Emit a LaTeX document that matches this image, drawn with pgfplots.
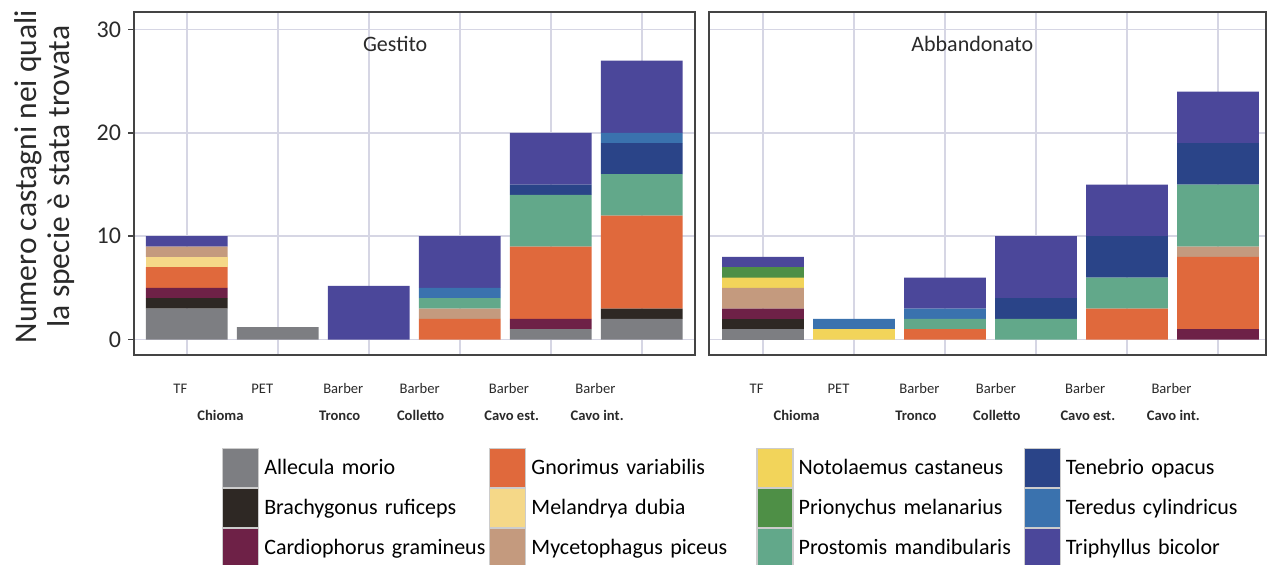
\documentclass[border=0pt]{standalone}
\usepackage{pgfplots}
\pgfplotsset{compat=1.18}
\usepackage{pgfplotstable}
\usepackage{fontspec}
\setmainfont{Carlito}

\definecolor{cAll}{HTML}{7D7E82}
\definecolor{cBra}{HTML}{2E2824}
\definecolor{cCar}{HTML}{6E2147}
\definecolor{cGno}{HTML}{E0693C}
\definecolor{cMel}{HTML}{F5D888}
\definecolor{cMyc}{HTML}{C49A7E}
\definecolor{cNot}{HTML}{F2D45A}
\definecolor{cPri}{HTML}{4E8F46}
\definecolor{cPro}{HTML}{62A88A}
\definecolor{cTen}{HTML}{2A4488}
\definecolor{cTer}{HTML}{3A72AE}
\definecolor{cTri}{HTML}{4B479A}
\definecolor{gridc}{HTML}{D6D6E4}
\definecolor{framec}{HTML}{444444}
\definecolor{txtc}{HTML}{2A2A2A}

% Gestito
\pgfplotstableread{
x All Bra Car Gno Mel Myc Not Pri Pro Ten Ter Tri
0 3   1   1   2   1   1   0   0   0   0   0   1
1 1.2 0   0   0   0   0   0   0   0   0   0   0
2 0   0   0   0   0   0   0   0   0   0   0   5.2
3 0   0   0   2   0   1   0   0   1   0   1   5
4 1   0   1   7   0   0   0   0   5   1   0   5
5 2   1   0   9   0   0   0   0   4   3   1   7
}\gest

% Abbandonato
\pgfplotstableread{
x All Bra Car Gno Mel Myc Not Pri Pro Ten Ter Tri
0 1   1   1   0   0   2   1   1   0   0   0   1
1 0   0   0   0   0   0   1   0   0   0   1   0
2 0   0   0   1   0   0   0   0   1   0   1   3
3 0   0   0   0   0   0   0   0   2   2   0   6
4 0   0   0   3   0   0   0   0   3   4   0   5
5 0   0   1   7   0   1   0   0   6   4   0   5
}\abb

\pgfplotsset{
  panel/.style={
    ybar stacked, bar width=0.9,
    scale only axis, height=171.5pt, anchor=south west,
    ymin=-1.5, ymax=31.7, enlargelimits=false,
    xtick={0,...,5}, xticklabels={}, xtick style={draw=none},
    ytick={0,10,20,30},
    grid=major, grid style={gridc, line width=0.8pt},
    axis line style={framec, line width=1pt},
    clip=false,
  },
  lg/.style={legend image code/.code={
      \fill[#1] (0pt,-9.7pt) rectangle (18pt,9.7pt);
      \draw[gray!40, line width=0.6pt] (0pt,-9.7pt) rectangle (18pt,9.7pt);
    }},
}
\tikzset{
  catA/.style={font=\fontsize{7.3}{8}\selectfont, text=txtc},
  catB/.style={font=\fontsize{7.3}{8}\selectfont\bfseries, text=txtc},
}

\newcommand{\catlabels}{%
  \node[catA] at (axis cs:-0.07,-4.74) {TF};
  \node[catA] at (axis cs:0.83,-4.74) {PET};
  \node[catA] at (axis cs:1.72,-4.74) {Barber};
  \node[catA] at (axis cs:2.56,-4.74) {Barber};
  \node[catA] at (axis cs:3.54,-4.74) {Barber};
  \node[catA] at (axis cs:4.49,-4.74) {Barber};
  \node[catB] at (axis cs:0.37,-7.36) {Chioma};
  \node[catB] at (axis cs:1.68,-7.36) {Tronco};
  \node[catB] at (axis cs:2.57,-7.36) {Colletto};
  \node[catB] at (axis cs:3.57,-7.36) {Cavo est.};
  \node[catB] at (axis cs:4.51,-7.36) {Cavo int.};
}

\begin{document}
\begin{tikzpicture}
\path[use as bounding box] (0,0) rectangle (634pt,282pt);

\begin{axis}[panel,
  at={(67pt,104.5pt)}, width=280.5pt,
  xmin=-0.58, xmax=5.585,
  tick align=outside, major tick length=3pt,
  ytick pos=left, ytick style={framec, line width=0.8pt},
  yticklabel style={font=\fontsize{12}{14}\selectfont, text=txtc},
  /pgf/number format/assume math mode=true,
  ylabel={Numero castagni nei quali\\la specie è stata trovata},
  ylabel style={at={(axis description cs:-0.16,0.52)}, anchor=center, rotate=0,
    align=center, font=\fontsize{15.8}{16.5}\selectfont, text=txtc},
  legend columns=4,
  legend cell align=left,
  legend style={draw=none, fill=none, inner sep=0pt, outer sep=0pt,
    column sep=0pt, row sep=0pt,
    at={(axis description cs:0.157,-0.271)}, anchor=north west,
    nodes={inner xsep=2.5pt, inner ysep=0pt, text width=110pt,
      font=\fontsize{11}{13}\selectfont, text=black}},
]
\pgfplotsinvokeforeach{All,Bra,Car,Gno,Mel,Myc,Not,Pri,Pro,Ten,Ter,Tri}{
  \addplot[fill=c#1, draw=none, forget plot] table[x=x, y=#1] {\gest};
}
\addlegendimage{lg=cAll}\addlegendentry{\mbox{Allecula morio}}
\addlegendimage{lg=cGno}\addlegendentry{\mbox{Gnorimus variabilis}}
\addlegendimage{lg=cNot}\addlegendentry{\mbox{Notolaemus castaneus}}
\addlegendimage{lg=cTen}\addlegendentry{\mbox{Tenebrio opacus}}
\addlegendimage{lg=cBra}\addlegendentry{\mbox{Brachygonus ruficeps}}
\addlegendimage{lg=cMel}\addlegendentry{\mbox{Melandrya dubia}}
\addlegendimage{lg=cPri}\addlegendentry{\mbox{Prionychus melanarius}}
\addlegendimage{lg=cTer}\addlegendentry{\mbox{Teredus cylindricus}}
\addlegendimage{lg=cCar}\addlegendentry{\mbox{Cardiophorus gramineus}}
\addlegendimage{lg=cMyc}\addlegendentry{\mbox{Mycetophagus piceus}}
\addlegendimage{lg=cPro}\addlegendentry{\mbox{Prostomis mandibularis}}
\addlegendimage{lg=cTri}\addlegendentry{\mbox{Triphyllus bicolor}}
\node[font=\fontsize{11}{13}\selectfont, text=txtc] at (axis cs:2.29,28.6) {Gestito};
\catlabels
\end{axis}

\begin{axis}[panel,
  at={(354.5pt,104.5pt)}, width=278.5pt,
  xmin=-0.593, xmax=5.528,
  yticklabels={}, ytick style={draw=none},
]
\pgfplotsinvokeforeach{All,Bra,Car,Gno,Mel,Myc,Not,Pri,Pro,Ten,Ter,Tri}{
  \addplot[fill=c#1, draw=none, forget plot] table[x=x, y=#1] {\abb};
}
\node[font=\fontsize{11}{13}\selectfont, text=txtc] at (axis cs:2.30,28.6) {Abbandonato};
\catlabels
\end{axis}
\end{tikzpicture}
\end{document}
